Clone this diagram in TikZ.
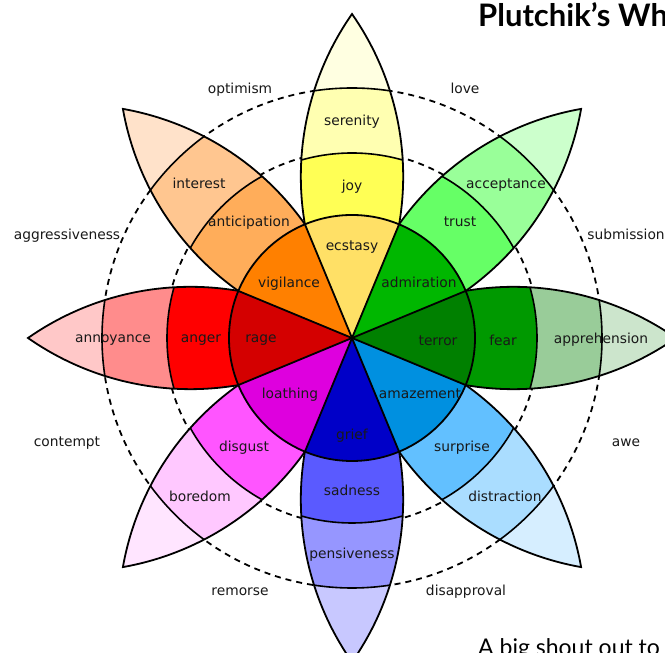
\documentclass[tikz,border=0pt]{standalone}
\usepackage{fontspec}
\setmainfont{DejaVu Sans}
\newfontfamily\titlefont{Lato}
\definecolor{cEcs}{HTML}{FFE066}
\definecolor{cJoy}{HTML}{FFFF55}
\definecolor{cSer}{HTML}{FFFFB1}
\definecolor{tJoy}{HTML}{FFFFE1}
\definecolor{cAdm}{HTML}{00B700}
\definecolor{cTru}{HTML}{66FF66}
\definecolor{cAcc}{HTML}{99FF99}
\definecolor{tTru}{HTML}{CCFFCC}
\definecolor{cTer}{HTML}{008000}
\definecolor{cFea}{HTML}{009900}
\definecolor{cApp}{HTML}{99CC99}
\definecolor{tFea}{HTML}{CCE5CC}
\definecolor{cAma}{HTML}{0090E0}
\definecolor{cSur}{HTML}{62C0FF}
\definecolor{cDis}{HTML}{AADDFF}
\definecolor{tSur}{HTML}{D6EEFF}
\definecolor{cGri}{HTML}{0000C8}
\definecolor{cSad}{HTML}{5A5AFF}
\definecolor{cPen}{HTML}{9696FF}
\definecolor{tSad}{HTML}{C8C8FF}
\definecolor{cLoa}{HTML}{DE00DE}
\definecolor{cDsg}{HTML}{FF55FF}
\definecolor{cBor}{HTML}{FFC8FF}
\definecolor{tDsg}{HTML}{FFE5FF}
\definecolor{cRag}{HTML}{D40000}
\definecolor{cAng}{HTML}{FF0000}
\definecolor{cAnn}{HTML}{FF8C8C}
\definecolor{tAng}{HTML}{FFC8C8}
\definecolor{cVig}{HTML}{FF8000}
\definecolor{cAnt}{HTML}{FFAD5A}
\definecolor{cInt}{HTML}{FFC690}
\definecolor{tAnt}{HTML}{FFE2CA}
\tikzset{
  lbl/.style={font=\fontsize{13.8}{16}\selectfont, text=black!90, inner sep=0pt, text height=1.5ex, text depth=.25ex, yshift=-2pt},
  edge/.style={line width=1.8pt, black},
  ring/.style={line width=1.6pt, black},
  dashcircle/.style={line width=1.8pt, black, dash pattern=on 6pt off 5pt}
}
\begin{document}
\begin{tikzpicture}[x=1pt,y=1pt]
\useasboundingbox (0,0) rectangle (665,653);
\clip (0,0) rectangle (665,653);
\fill[white] (0,0) rectangle (665,653);
\coordinate (C) at (352,315);
% dashed circles
\draw[dashcircle] (C) circle[radius=187];
\draw[dashcircle] (C) circle[radius=250];
% petals
\foreach \ang/\ca/\cb/\cc in {90/cJoy/cSer/tJoy, 45/cTru/cAcc/tTru, 0/cFea/cApp/tFea, -45/cSur/cDis/tSur, -90/cSad/cPen/tSad, -135/cDsg/cBor/tDsg, 180/cAng/cAnn/tAng, 135/cAnt/cInt/tAnt}{
  \begin{scope}[shift={(352,315)}, rotate=\ang]
    \begin{scope}
      \clip (0,0) -- (113.6,47.1) arc[start angle=99.73, end angle=55.03, radius=283.5] arc[start angle=-55.03, end angle=-99.73, radius=283.5] -- cycle;
      \fill[\cc] (0,0) circle[radius=330];
      \fill[\cb] (0,0) circle[radius=250];
      \fill[\ca] (0,0) circle[radius=185];
      \draw[ring] (0,0) circle[radius=250] (0,0) circle[radius=185];
    \end{scope}
    \draw[edge] (113.6,47.1) arc[start angle=99.73, end angle=55.03, radius=283.5] arc[start angle=-55.03, end angle=-99.73, radius=283.5];
  \end{scope}
}
% inner wedges
\foreach \ang/\col in {90/cEcs, 45/cAdm, 0/cTer, -45/cAma, -90/cGri, -135/cLoa, 180/cRag, 135/cVig}{
  \fill[\col] (C) -- ++(\ang-22.5:123) arc[start angle=\ang-22.5, end angle=\ang+22.5, radius=123] -- cycle;
}
\foreach \ang in {22.5,67.5,...,337.5}{
  \draw[edge] (C) -- ++(\ang:123);
}
\draw[edge] (C) circle[radius=123];
% outer labels
\node[lbl] (optimism) at (240,565) {optimism};
\node[lbl] (love) at (465,565) {love};
\node[lbl] (aggressiveness) at (67,419) {aggressiveness};
\node[lbl] (submission) at (626,419) {submission};
\node[lbl] (contempt) at (67,212) {contempt};
\node[lbl] (awe) at (626,212) {awe};
\node[lbl] (remorse) at (240,63) {remorse};
\node[lbl] (disapproval) at (466,63) {disapproval};
% petal labels
\node[lbl] (serenity) at (352,533) {serenity};
\node[lbl] (joy) at (352,468) {joy};
\node[lbl] (ecstasy) at (352,408) {ecstasy};
\node[lbl] (interest) at (199,470) {interest};
\node[lbl] (anticipation) at (249,432) {anticipation};
\node[lbl] (vigilance) at (289,371) {vigilance};
\node[lbl] (acceptance) at (506,470) {acceptance};
\node[lbl] (trust) at (460,432) {trust};
\node[lbl] (admiration) at (419,371) {admiration};
\node[lbl] (annoyance) at (113,316) {annoyance};
\node[lbl] (anger) at (201,316) {anger};
\node[lbl] (rage) at (261,316) {rage};
\node[lbl] (terror) at (438,313) {terror};
\node[lbl] (fear) at (503,313) {fear};
\node[lbl] (apprehension) at (601,315) {apprehension};
\node[lbl] (loathing) at (290,260) {loathing};
\node[lbl] (disgust) at (244,207) {disgust};
\node[lbl] (boredom) at (200,157) {boredom};
\node[lbl] (amazement) at (420,260) {amazement};
\node[lbl] (surprise) at (462,207) {surprise};
\node[lbl] (distraction) at (505,157) {distraction};
\node[lbl] (grief) at (352,219) {grief};
\node[lbl] (sadness) at (352,163) {sadness};
\node[lbl] (pensiveness) at (352,100) {pensiveness};
% title and footer text (cut off by the frame, as in the reference)
\node[anchor=base west, inner sep=0pt, font=\titlefont\bfseries\fontsize{31}{34}\selectfont] (title) at (478,626) {Plutchik’s Wheel of Emotions};
\node[anchor=base west, inner sep=0pt, font=\titlefont\fontsize{23}{27}\selectfont] (footer) at (478,-3) {A big shout out to};
\end{tikzpicture}
\end{document}
